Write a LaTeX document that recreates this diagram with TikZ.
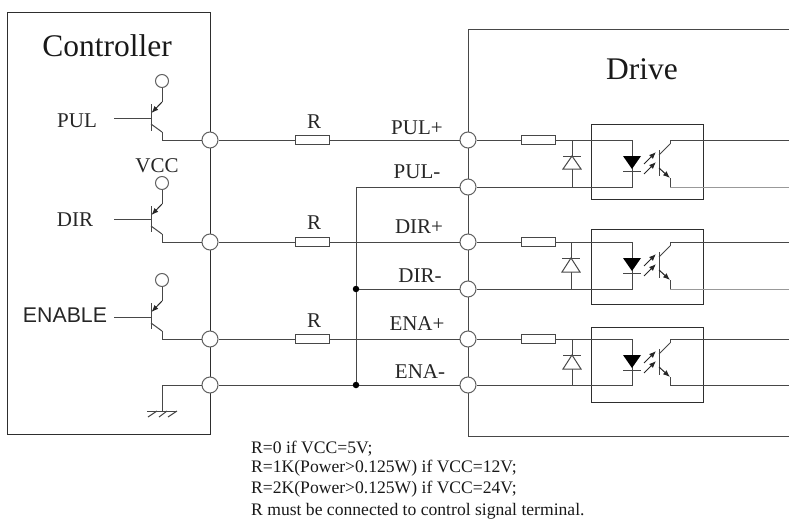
\documentclass[tikz,border=0pt]{standalone}
\usepackage{fontspec}
\setmainfont{Liberation Serif}
\newfontfamily\arialfont{Liberation Sans}
\usetikzlibrary{arrows.meta}
\tikzset{
  wire/.style={line width=1pt,black!72},
  frame/.style={draw,line width=.9pt,black!82,inner sep=0pt},
  term/.style={circle,draw,line width=1pt,black!62,fill=white,minimum size=16pt,inner sep=0pt},
  vcc/.style={circle,draw,line width=1pt,black!62,fill=white,minimum size=13pt,inner sep=0pt},
  res/.style={rectangle,draw,line width=1pt,black!72,fill=white,minimum width=34pt,minimum height=9pt,inner sep=0pt},
  dot/.style={circle,fill=black,minimum size=6.5pt,inner sep=0pt},
  lbl/.style={font=\fontsize{21}{21}\selectfont,text=black!85,inner sep=0pt},
  big/.style={font=\fontsize{31.5}{31.5}\selectfont,text=black!90,inner sep=0pt},
  note/.style={font=\fontsize{17.6}{17.6}\selectfont,text=black!90,inner sep=0pt,anchor=west},
  tip/.style={-{Latex[length=7pt,width=5.5pt]},line width=1pt,black!85},
}
\begin{document}
\begin{tikzpicture}[x=1pt,y=-1pt]
\useasboundingbox (0,0) rectangle (789,519);

% outer boxes
  \node[frame,minimum width=203pt,minimum height=422pt] (ctrl) at (108.5,223) {};
  \coordinate (d1) at (789,30);
  \coordinate (d2) at (468,30);
  \coordinate (d3) at (468,436);
  \coordinate (d4) at (789,436);
  \draw[wire] (d1) -- (d2) -- (d3) -- (d4);
  \node[big] (tctrl) at (107,46) {Controller};
  \node[big] (tdrive) at (642,69) {Drive};

% terminals
  \node[term] (tc1) at (210,140) {};
  \node[term] (tc2) at (210,242) {};
  \node[term] (tc3) at (210,339) {};
  \node[term] (tc4) at (210,385) {};
  \node[term] (td1) at (468,140) {};
  \node[term] (td2) at (468,187) {};
  \node[term] (td3) at (468,242) {};
  \node[term] (td4) at (468,289) {};
  \node[term] (td5) at (468,339) {};
  \node[term] (td6) at (468,385) {};

% series resistors
  \node[res] (rc1) at (312,140) {};
  \node[res] (rc2) at (312,242) {};
  \node[res] (rc3) at (312,339) {};
  \draw[wire] (tc1) -- (rc1);
  \draw[wire] (rc1) -- (td1);
  \draw[wire] (tc2) -- (rc2);
  \draw[wire] (rc2) -- (td3);
  \draw[wire] (tc3) -- (rc3);
  \draw[wire] (rc3) -- (td5);
  \draw[wire] (tc4) -- (td6);

% common return
  \node[dot] (j1) at (356,289) {};
  \node[dot] (j2) at (356,385) {};
  \coordinate (j0) at (356,187);
  \draw[wire] (td2) -- (j0) -- (j1) -- (j2);
  \draw[wire] (td4) -- (j1);

% labels on the wires
  \node[lbl] (lr1) at (314,122) {R};
  \node[lbl] (lr2) at (314,223) {R};
  \node[lbl] (lr3) at (314,321) {R};
  \node[lbl] (l1) at (417,128) {PUL+};
  \node[lbl] (l2) at (417,172) {PUL-};
  \node[lbl] (l3) at (419,227) {DIR+};
  \node[lbl] (l4) at (420,276) {DIR-};
  \node[lbl] (l5) at (417,324) {ENA+};
  \node[lbl] (l6) at (420,372) {ENA-};

% controller transistors
  \node[lbl] (pul) at (77,121) {PUL};
  \coordinate (b1) at (151,118);
  \coordinate (b1w) at (114,118);
  \coordinate (k1) at (162,132);
  \coordinate (k1d) at (162,140);
  \node[vcc] (v1) at (162,81) {};
  \coordinate (e1) at (162,102);
  \draw[wire] (b1w) -- (b1);
  \draw[wire] (151,104) -- (151,131);
  \draw[wire] (151,124) -- (k1);
  \draw[wire] (k1) -- (k1d) -- (tc1);
  \draw[wire] (v1) -- (e1);
  \draw[tip] (e1) -- (151.5,113);

  \node[lbl] (lvcc) at (157,166) {VCC};
  \node[lbl] (dir) at (75,220) {DIR};
  \coordinate (b2) at (151,219);
  \coordinate (b2w) at (114,219);
  \coordinate (k2) at (162,234);
  \coordinate (k2d) at (162,242);
  \node[vcc] (v2) at (162,183) {};
  \coordinate (e2) at (162,204);
  \draw[wire] (b2w) -- (b2);
  \draw[wire] (151,206) -- (151,232);
  \draw[wire] (151,226) -- (k2);
  \draw[wire] (k2) -- (k2d) -- (tc2);
  \draw[wire] (v2) -- (e2);
  \draw[tip] (e2) -- (151.5,215);

  \node[lbl,font=\arialfont\fontsize{21.3}{21.3}\selectfont] (ena) at (65,315) {ENABLE};
  \coordinate (b3) at (151,317);
  \coordinate (b3w) at (114,317);
  \coordinate (k3) at (162,331);
  \coordinate (k3d) at (162,339);
  \node[vcc] (v3) at (162,280) {};
  \coordinate (e3) at (162,301);
  \draw[wire] (b3w) -- (b3);
  \draw[wire] (151,303) -- (151,329);
  \draw[wire] (151,323) -- (k3);
  \draw[wire] (k3) -- (k3d) -- (tc3);
  \draw[wire] (v3) -- (e3);
  \draw[tip] (e3) -- (151.5,312);

% ground
  \coordinate (g0) at (162,385);
  \coordinate (g1) at (162,411);
  \draw[wire] (tc4) -- (g0) -- (g1);
  \draw[wire] (147,411) -- (177,411);
  \draw[wire] (157,411) -- (148,417);
  \draw[wire] (167,411) -- (159,417);
  \draw[wire] (177,411) -- (168,417);

% drive inputs
  \node[res] (rd1) at (538,140) {};
  \node[res] (rd2) at (538,242) {};
  \node[res] (rd3) at (538,339) {};
  \node[frame,minimum width=112pt,minimum height=75pt] (o1) at (647,161.5) {};
  \node[frame,minimum width=112pt,minimum height=75pt] (o2) at (647,266.5) {};
  \node[frame,minimum width=112pt,minimum height=75pt] (o3) at (647,364.5) {};

% first opto
  \coordinate (a1) at (632,140);
  \coordinate (c1) at (632,187);
  \coordinate (q1) at (670,140);
  \coordinate (s1) at (670,187);
  \coordinate (f1) at (789,140);
  \coordinate (h1) at (789,187);
  \coordinate (u1) at (572,140);
  \coordinate (w1) at (572,187);
  \draw[wire] (td1) -- (rd1);
  \draw[wire] (rd1) -- (a1) -- (c1) -- (td2);
  \draw[wire] (u1) -- (w1);
  \draw[wire,fill=white] (572,156) -- (581,169) -- (563,169) -- cycle;
  \draw[wire] (563,156) -- (581,156);
  \fill[black] (623,156) -- (641,156) -- (632,169) -- cycle;
  \draw[wire] (623,171) -- (641,171);
  \draw[tip] (644,164) -- (656,152);
  \draw[tip] (644,174) -- (656,162);
  \draw[wire] (659,150) -- (659,176);
  \draw[wire] (f1) -- (q1) -- (670,144);
  \draw[wire] (670,144) -- (659,155);
  \draw[wire,black!40] (h1) -- (s1);
  \draw[wire] (s1) -- (670,178);
  \draw[tip] (659,168) -- (670,178);

% second opto
  \coordinate (a2) at (632,242);
  \coordinate (c2) at (632,289);
  \coordinate (q2) at (670,242);
  \coordinate (s2) at (670,289);
  \coordinate (f2) at (789,242);
  \coordinate (h2) at (789,289);
  \coordinate (u2) at (571,242);
  \coordinate (w2) at (571,289);
  \draw[wire] (td3) -- (rd2);
  \draw[wire] (rd2) -- (a2) -- (c2) -- (td4);
  \draw[wire] (u2) -- (w2);
  \draw[wire,fill=white] (571,258) -- (580,272) -- (562,272) -- cycle;
  \draw[wire] (562,258) -- (580,258);
  \fill[black] (623,258) -- (641,258) -- (632,271) -- cycle;
  \draw[wire] (623,273) -- (641,273);
  \draw[tip] (644,266) -- (656,254);
  \draw[tip] (644,276) -- (656,264);
  \draw[wire] (659,252) -- (659,278);
  \draw[wire] (f2) -- (q2) -- (670,246);
  \draw[wire] (670,246) -- (659,257);
  \draw[wire,black!40] (h2) -- (s2);
  \draw[wire] (s2) -- (670,280);
  \draw[tip] (659,270) -- (670,280);

% third opto
  \coordinate (a3) at (632,339);
  \coordinate (c3) at (632,385);
  \coordinate (q3) at (670,339);
  \coordinate (s3) at (670,385);
  \coordinate (f3) at (789,339);
  \coordinate (h3) at (789,385);
  \coordinate (u3) at (572,339);
  \coordinate (w3) at (572,385);
  \draw[wire] (td5) -- (rd3);
  \draw[wire] (rd3) -- (a3) -- (c3) -- (td6);
  \draw[wire] (u3) -- (w3);
  \draw[wire,fill=white] (572,355) -- (581,369) -- (563,369) -- cycle;
  \draw[wire] (563,355) -- (581,355);
  \fill[black] (623,355) -- (641,355) -- (632,368) -- cycle;
  \draw[wire] (623,370) -- (641,370);
  \draw[tip] (644,363) -- (656,351);
  \draw[tip] (644,373) -- (656,361);
  \draw[wire] (659,349) -- (659,375);
  \draw[wire] (f3) -- (q3) -- (670,343);
  \draw[wire] (670,343) -- (659,354);
  \draw[wire] (h3) -- (s3) -- (670,377);
  \draw[tip] (659,367) -- (670,377);

% notes
  \node[note] (n1) at (251,449) {R=0 if VCC=5V;};
  \node[note] (n2) at (251,468) {R=1K(Power>0.125W) if VCC=12V;};
  \node[note] (n3) at (251,489) {R=2K(Power>0.125W) if VCC=24V;};
  \node[note] (n4) at (251,511) {R must be connected to control signal terminal.};
\end{tikzpicture}
\end{document}
